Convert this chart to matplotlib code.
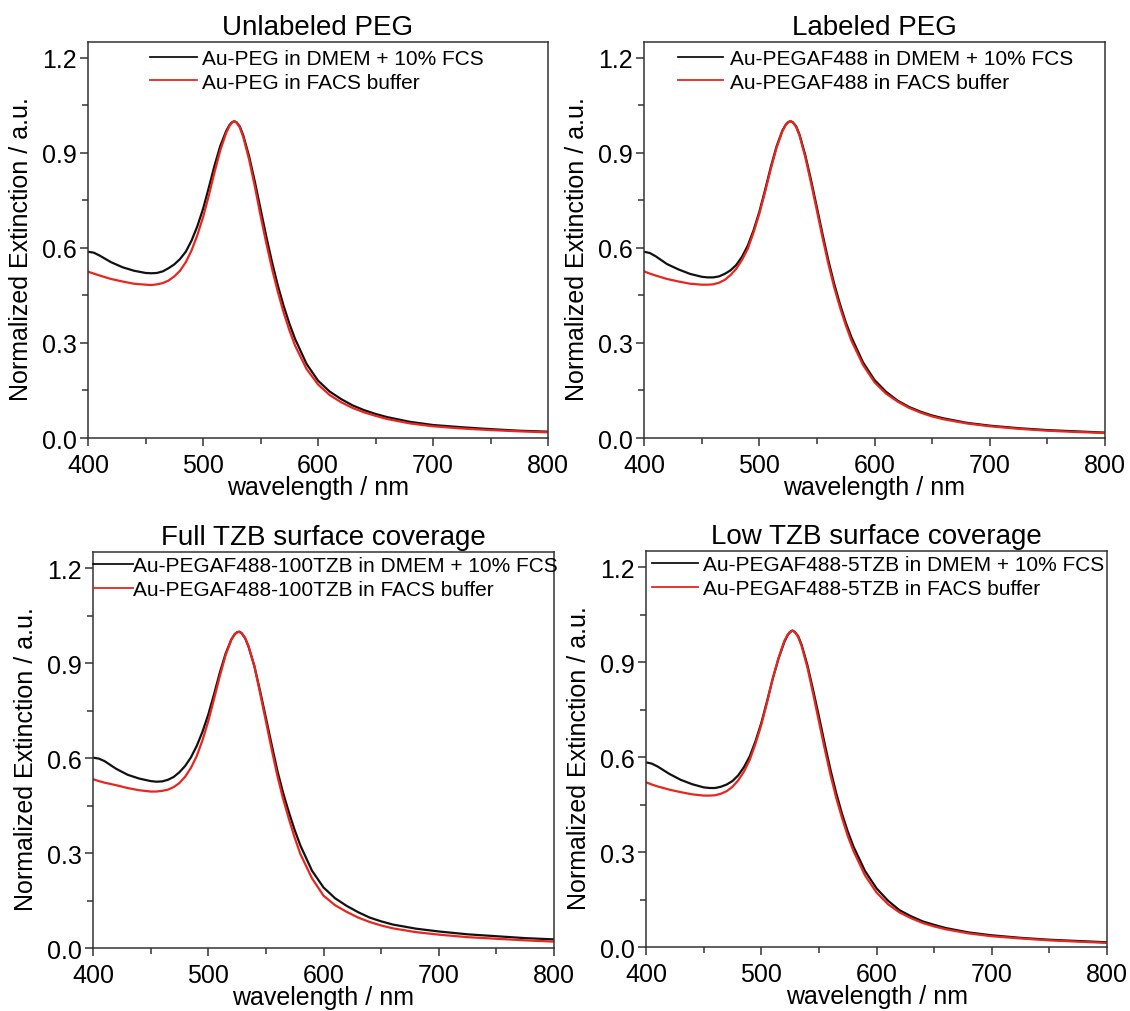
import matplotlib
matplotlib.use("Agg")
import matplotlib.pyplot as plt
from matplotlib.ticker import MultipleLocator

plt.rcParams['font.family'] = ['Liberation Sans', 'DejaVu Sans']

wavelength = [400, 405, 410, 420, 430, 440, 450, 455, 460, 465,
              470, 475, 480, 485, 490, 495, 500, 505, 510, 515,
              520, 523, 525, 527, 529, 532, 535, 540, 545, 550,
              555, 560, 565, 570, 575, 580, 590, 600, 610, 620,
              630, 640, 650, 660, 680, 700, 725, 750, 775, 800]

# Unlabeled PEG
peg_dmem = [0.588, 0.585, 0.576, 0.555, 0.539, 0.528, 0.521, 0.520, 0.521, 0.526,
            0.536, 0.548, 0.565, 0.588, 0.623, 0.668, 0.723, 0.790, 0.860, 0.922,
            0.968, 0.988, 0.996, 1.000, 0.997, 0.983, 0.955, 0.890, 0.810, 0.723,
            0.636, 0.555, 0.482, 0.418, 0.362, 0.313, 0.234, 0.181, 0.147, 0.123,
            0.103, 0.088, 0.076, 0.066, 0.051, 0.041, 0.034, 0.028, 0.023, 0.020]
peg_facs = [0.525, 0.519, 0.513, 0.502, 0.494, 0.487, 0.484, 0.483, 0.485, 0.489,
            0.497, 0.510, 0.528, 0.555, 0.592, 0.640, 0.697, 0.765, 0.839, 0.908,
            0.962, 0.985, 0.995, 1.000, 0.996, 0.980, 0.950, 0.880, 0.795, 0.702,
            0.615, 0.534, 0.462, 0.397, 0.341, 0.292, 0.218, 0.169, 0.136, 0.113,
            0.095, 0.081, 0.070, 0.060, 0.046, 0.037, 0.030, 0.025, 0.021, 0.018]

# Labeled PEG
af_dmem = [0.588, 0.584, 0.574, 0.549, 0.532, 0.518, 0.509, 0.507, 0.507, 0.510,
           0.518, 0.529, 0.546, 0.572, 0.607, 0.655, 0.713, 0.782, 0.855, 0.920,
           0.970, 0.989, 0.997, 1.000, 0.997, 0.984, 0.957, 0.892, 0.813, 0.728,
           0.642, 0.560, 0.487, 0.423, 0.366, 0.318, 0.239, 0.183, 0.146, 0.118,
           0.098, 0.083, 0.071, 0.062, 0.048, 0.039, 0.031, 0.025, 0.021, 0.017]
af_facs = [0.526, 0.519, 0.513, 0.502, 0.494, 0.487, 0.484, 0.484, 0.485, 0.490,
           0.499, 0.514, 0.534, 0.562, 0.597, 0.648, 0.707, 0.776, 0.849, 0.916,
           0.968, 0.988, 0.996, 1.000, 0.997, 0.982, 0.954, 0.886, 0.804, 0.718,
           0.631, 0.549, 0.476, 0.413, 0.357, 0.307, 0.231, 0.176, 0.140, 0.115,
           0.095, 0.080, 0.068, 0.059, 0.046, 0.037, 0.029, 0.023, 0.019, 0.016]

# Full TZB surface coverage
tzb100_dmem = [0.602, 0.599, 0.591, 0.567, 0.548, 0.536, 0.528, 0.526, 0.527, 0.532,
               0.541, 0.556, 0.576, 0.603, 0.639, 0.684, 0.738, 0.802, 0.870, 0.930,
               0.975, 0.992, 0.998, 1.000, 0.995, 0.979, 0.952, 0.891, 0.812, 0.728,
               0.643, 0.560, 0.490, 0.429, 0.373, 0.324, 0.245, 0.192, 0.158, 0.134,
               0.114, 0.097, 0.085, 0.075, 0.062, 0.053, 0.044, 0.038, 0.032, 0.028]
tzb100_facs = [0.534, 0.528, 0.523, 0.515, 0.506, 0.499, 0.495, 0.495, 0.497, 0.501,
               0.509, 0.522, 0.542, 0.570, 0.607, 0.657, 0.717, 0.787, 0.859, 0.925,
               0.975, 0.992, 0.998, 0.999, 0.995, 0.980, 0.953, 0.891, 0.805, 0.717,
               0.628, 0.544, 0.471, 0.408, 0.349, 0.297, 0.221, 0.166, 0.136, 0.115,
               0.097, 0.083, 0.072, 0.063, 0.051, 0.043, 0.035, 0.030, 0.025, 0.021]

# Low TZB surface coverage
tzb5_dmem = [0.584, 0.580, 0.571, 0.548, 0.529, 0.515, 0.505, 0.503, 0.503, 0.507,
             0.514, 0.525, 0.543, 0.569, 0.603, 0.651, 0.708, 0.777, 0.849, 0.912,
             0.964, 0.986, 0.995, 1.000, 0.996, 0.982, 0.955, 0.891, 0.812, 0.729,
             0.643, 0.561, 0.487, 0.422, 0.366, 0.318, 0.241, 0.186, 0.147, 0.117,
             0.098, 0.082, 0.071, 0.061, 0.047, 0.038, 0.030, 0.024, 0.020, 0.016]
tzb5_facs = [0.521, 0.514, 0.508, 0.498, 0.490, 0.483, 0.479, 0.479, 0.480, 0.485,
             0.493, 0.507, 0.527, 0.555, 0.592, 0.643, 0.702, 0.773, 0.849, 0.914,
             0.967, 0.988, 0.996, 1.000, 0.996, 0.980, 0.951, 0.884, 0.800, 0.713,
             0.627, 0.545, 0.472, 0.409, 0.352, 0.304, 0.227, 0.173, 0.136, 0.110,
             0.092, 0.077, 0.066, 0.057, 0.044, 0.035, 0.028, 0.022, 0.018, 0.014]

titles = ["Unlabeled PEG", "Labeled PEG",
          "Full TZB surface coverage", "Low TZB surface coverage"]
labels_dmem = ["Au-PEG in DMEM + 10% FCS", "Au-PEGAF488 in DMEM + 10% FCS",
               "Au-PEGAF488-100TZB in DMEM + 10% FCS", "Au-PEGAF488-5TZB in DMEM + 10% FCS"]
labels_facs = ["Au-PEG in FACS buffer", "Au-PEGAF488 in FACS buffer",
               "Au-PEGAF488-100TZB in FACS buffer", "Au-PEGAF488-5TZB in FACS buffer"]
dmem_data = [peg_dmem, af_dmem, tzb100_dmem, tzb5_dmem]
facs_data = [peg_facs, af_facs, tzb100_facs, tzb5_facs]

# axes rectangles and legend placement, tuned by eye
rects = [[0.0779, 0.5662, 0.4071, 0.3913],
         [0.5699, 0.5662, 0.4080, 0.3913],
         [0.0823, 0.0620, 0.4080, 0.3911],
         [0.5717, 0.0629, 0.4080, 0.3913]]
leg_x = [0.135, 0.074, 0.0, 0.013]
leg_y = [0.982, 0.982, 0.99, 0.99]
handle_len = [2.25, 2.15, 1.9, 2.2]
handle_pad = [0.25, 0.33, 0.0, 0.25]

black = "#111111"
red = "#e8261e"
frame = "#333333"

fig = plt.figure(figsize=(11.3, 10.12), dpi=100)

for i in range(4):
    ax = fig.add_axes(rects[i])
    ax.plot(wavelength, dmem_data[i], color=black, lw=1.6,
            solid_joinstyle='round', label=labels_dmem[i])
    ax.plot(wavelength, facs_data[i], color=red, lw=1.6,
            solid_joinstyle='round', label=labels_facs[i])

    ax.set_xlim(400, 800)
    ax.set_ylim(0, 1.25)
    ax.xaxis.set_major_locator(MultipleLocator(100))
    ax.xaxis.set_minor_locator(MultipleLocator(50))
    ax.yaxis.set_major_locator(MultipleLocator(0.3))
    ax.yaxis.set_minor_locator(MultipleLocator(0.15))
    ax.yaxis.set_major_formatter(plt.FormatStrFormatter('%.1f'))
    ax.tick_params(which='both', direction='out', top=False, right=False,
                   color=frame, width=1.1, labelsize=18)
    ax.tick_params(axis='x', pad=4.5)
    ax.tick_params(axis='y', pad=2)
    ax.tick_params(which='major', length=6)
    ax.tick_params(which='minor', length=4)
    for s in ax.spines.values():
        s.set_color(frame)
        s.set_linewidth(1.1)

    ax.set_title(titles[i], fontsize=20, pad=6)
    ax.set_xlabel("wavelength / nm", fontsize=18, labelpad=-1.5)
    ax.set_ylabel("Normalized Extinction / a.u.", fontsize=18)
    ax.yaxis.set_label_coords(-0.12, 0.48)

    leg = ax.legend(loc='upper left', bbox_to_anchor=(leg_x[i], leg_y[i]),
                    frameon=False, fontsize=15, borderpad=0, borderaxespad=0,
                    handlelength=handle_len[i], handletextpad=handle_pad[i],
                    labelspacing=0.22)
    for line in leg.get_lines():
        line.set_linewidth(1.3)

plt.savefig("out.png", dpi=100)
plt.close()
